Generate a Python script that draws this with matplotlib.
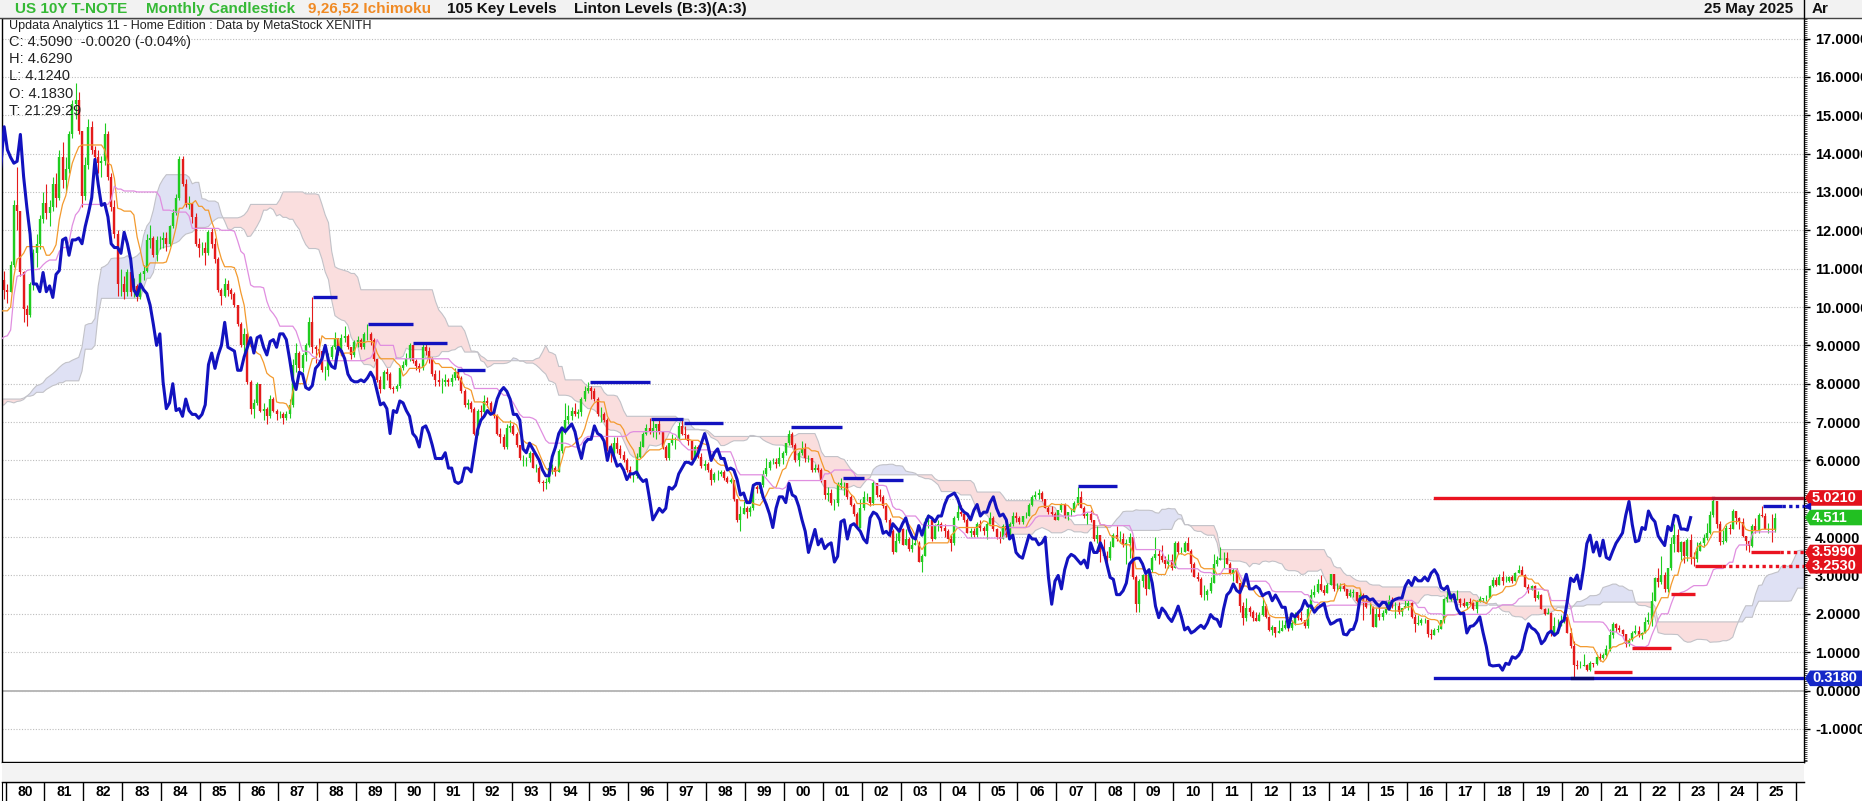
import numpy as np
import pandas as pd
import matplotlib
matplotlib.use("Agg")
import matplotlib.pyplot as plt
import matplotlib.transforms as mtransforms
from matplotlib.patches import Polygon, Rectangle
from matplotlib.ticker import MultipleLocator, FormatStrFormatter

plt.rcParams['font.family'] = ['Liberation Sans', 'DejaVu Sans']

# ---------------------------------------------------------------
# monthly bars, Jan 1973 .. May 2025 (1973-79 only feed the Ichimoku lines)
# ---------------------------------------------------------------
first_year = 1973

close = [
    6.55, 6.70, 6.75, 6.75, 6.90, 7.00, 7.35, 7.25, 6.90, 6.75, 6.75, 6.90,  # 1973
    6.95, 7.05, 7.45, 7.55, 7.55, 7.70, 7.95, 8.10, 7.90, 7.75, 7.50, 7.45,  # 1974
    7.45, 7.55, 8.00, 8.20, 7.95, 7.95, 8.25, 8.45, 8.35, 8.05, 8.05, 7.85,  # 1975
    7.75, 7.75, 7.65, 7.70, 7.95, 7.85, 7.80, 7.65, 7.50, 7.35, 7.05, 6.90,  # 1976
    7.35, 7.45, 7.40, 7.40, 7.35, 7.30, 7.40, 7.35, 7.45, 7.55, 7.65, 7.80,  # 1977
    8.00, 8.05, 8.10, 8.25, 8.40, 8.55, 8.50, 8.40, 8.55, 8.75, 8.90, 9.05,  # 1978
    9.10, 9.15, 9.15, 9.25, 9.05, 8.90, 9.00, 9.20, 9.80, 10.70, 10.45, 10.40,  # 1979
    11.10, 12.65, 12.50, 10.90, 9.95, 9.80, 10.60, 11.40, 11.65, 12.30, 12.70, 12.45,  # 1980
    12.60, 13.20, 12.85, 13.90, 13.30, 13.60, 14.50, 15.30, 15.40, 14.60, 12.90, 13.70,  # 1981
    14.70, 14.10, 13.90, 13.75, 13.80, 14.50, 13.40, 12.60, 11.90, 10.60, 10.60, 10.40,  # 1982
    10.90, 10.40, 10.55, 10.25, 10.85, 10.95, 11.75, 11.80, 11.35, 11.75, 11.75, 11.80,  # 1983
    11.65, 12.10, 12.45, 12.85, 13.85, 13.20, 12.65, 12.70, 12.35, 11.65, 11.55, 11.55,  # 1984
    11.40, 11.95, 11.65, 11.25, 10.45, 10.30, 10.60, 10.45, 10.35, 10.05, 9.55, 9.00,  # 1985
    9.30, 8.05, 7.35, 7.50, 8.00, 7.30, 7.35, 7.15, 7.60, 7.30, 7.20, 7.20,  # 1986
    7.10, 7.20, 7.45, 8.50, 8.80, 8.40, 8.75, 9.00, 9.60, 8.95, 8.90, 8.85,  # 1987
    8.35, 8.35, 8.70, 8.95, 9.20, 8.80, 9.20, 9.25, 8.95, 8.75, 9.10, 9.15,  # 1988
    8.95, 9.30, 9.30, 9.15, 8.65, 8.10, 7.85, 8.30, 8.25, 7.90, 7.85, 7.95,  # 1989
    8.40, 8.50, 8.65, 9.00, 8.60, 8.45, 8.40, 8.95, 8.85, 8.65, 8.25, 8.10,  # 1990
    8.05, 8.05, 8.10, 8.05, 8.15, 8.30, 8.15, 7.80, 7.45, 7.50, 7.35, 6.70,  # 1991
    7.30, 7.25, 7.55, 7.50, 7.30, 7.15, 6.70, 6.60, 6.35, 6.85, 6.90, 6.70,  # 1992
    6.40, 6.05, 6.05, 6.05, 6.20, 5.80, 5.80, 5.45, 5.40, 5.45, 5.80, 5.80,  # 1993
    5.70, 6.25, 6.80, 7.05, 7.15, 7.30, 7.20, 7.25, 7.60, 7.80, 7.90, 7.80,  # 1994
    7.60, 7.20, 7.20, 7.05, 6.30, 6.20, 6.45, 6.30, 6.15, 6.00, 5.75, 5.60,  # 1995
    5.60, 6.10, 6.35, 6.70, 6.85, 6.75, 6.85, 6.95, 6.75, 6.35, 6.05, 6.45,  # 1996
    6.55, 6.55, 6.90, 6.70, 6.65, 6.50, 6.00, 6.35, 6.10, 5.85, 5.90, 5.75,  # 1997
    5.50, 5.65, 5.65, 5.70, 5.55, 5.45, 5.50, 5.00, 4.45, 4.60, 4.75, 4.65,  # 1998
    4.75, 5.30, 5.25, 5.35, 5.65, 5.80, 5.95, 5.95, 5.90, 6.05, 6.20, 6.45,  # 1999
    6.70, 6.40, 6.00, 6.20, 6.30, 6.05, 6.05, 5.75, 5.80, 5.75, 5.50, 5.10,  # 2000
    5.15, 4.90, 4.90, 5.35, 5.40, 5.40, 5.05, 4.85, 4.60, 4.25, 4.75, 5.05,  # 2001
    5.05, 4.90, 5.40, 5.10, 5.05, 4.80, 4.45, 4.15, 3.60, 3.90, 4.20, 3.80,  # 2002
    3.95, 3.70, 3.80, 3.85, 3.35, 3.50, 4.40, 4.45, 3.95, 4.30, 4.35, 4.25,  # 2003
    4.15, 3.95, 3.85, 4.50, 4.65, 4.60, 4.45, 4.10, 4.15, 4.05, 4.35, 4.25,  # 2004
    4.15, 4.35, 4.50, 4.20, 4.00, 3.95, 4.30, 4.05, 4.35, 4.55, 4.50, 4.40,  # 2005
    4.55, 4.55, 4.85, 5.05, 5.10, 5.15, 5.00, 4.75, 4.65, 4.60, 4.45, 4.70,  # 2006
    4.85, 4.55, 4.65, 4.65, 4.90, 5.05, 4.75, 4.55, 4.60, 4.45, 3.95, 4.05,  # 2007
    3.60, 3.50, 3.45, 3.75, 4.05, 3.95, 3.95, 3.80, 3.85, 4.00, 2.95, 2.25,  # 2008
    2.85, 3.00, 2.65, 3.15, 3.45, 3.55, 3.50, 3.40, 3.30, 3.40, 3.20, 3.85,  # 2009
    3.60, 3.60, 3.85, 3.65, 3.30, 2.95, 2.90, 2.50, 2.50, 2.60, 2.80, 3.30,  # 2010
    3.40, 3.45, 3.45, 3.30, 3.05, 3.15, 2.80, 2.20, 1.90, 2.15, 2.05, 1.90,  # 2011
    1.80, 1.98, 2.20, 1.92, 1.58, 1.65, 1.50, 1.55, 1.63, 1.70, 1.62, 1.76,  # 2012
    1.98, 1.88, 1.85, 1.67, 2.13, 2.49, 2.58, 2.78, 2.61, 2.55, 2.75, 3.03,  # 2013
    2.65, 2.65, 2.72, 2.65, 2.47, 2.53, 2.56, 2.34, 2.49, 2.34, 2.17, 2.17,  # 2014
    1.65, 2.00, 1.92, 2.03, 2.12, 2.35, 2.20, 2.21, 2.04, 2.15, 2.21, 2.27,  # 2015
    1.92, 1.73, 1.77, 1.83, 1.85, 1.47, 1.45, 1.58, 1.60, 1.83, 2.38, 2.44,  # 2016
    2.45, 2.36, 2.39, 2.28, 2.20, 2.30, 2.29, 2.12, 2.33, 2.38, 2.41, 2.41,  # 2017
    2.72, 2.87, 2.74, 2.95, 2.86, 2.86, 2.96, 2.86, 3.06, 3.15, 3.01, 2.69,  # 2018
    2.63, 2.72, 2.41, 2.50, 2.13, 2.00, 2.02, 1.50, 1.67, 1.69, 1.78, 1.92,  # 2019
    1.51, 1.15, 0.67, 0.64, 0.65, 0.66, 0.53, 0.71, 0.68, 0.88, 0.84, 0.92,  # 2020
    1.07, 1.46, 1.74, 1.63, 1.58, 1.47, 1.22, 1.31, 1.49, 1.55, 1.44, 1.51,  # 2021
    1.78, 1.83, 2.34, 2.93, 2.84, 3.01, 2.65, 3.19, 3.83, 4.05, 3.61, 3.87,  # 2022
    3.51, 3.92, 3.47, 3.42, 3.64, 3.84, 3.97, 4.11, 4.57, 4.93, 4.33, 3.88,  # 2023
    3.91, 4.25, 4.20, 4.68, 4.50, 4.40, 4.03, 3.90, 3.78, 4.28, 4.17, 4.57,  # 2024
    4.54, 4.21, 4.21, 4.183, 4.509,                                          # 2025
]

high = [
    6.60, 6.75, 6.80, 6.80, 6.95, 7.05, 7.50, 7.50, 7.30, 6.95, 6.85, 6.95,  # 1973
    7.05, 7.10, 7.50, 7.65, 7.70, 7.75, 8.00, 8.15, 8.15, 7.95, 7.80, 7.55,  # 1974
    7.60, 7.60, 8.05, 8.40, 8.25, 8.05, 8.30, 8.50, 8.55, 8.40, 8.15, 8.10,  # 1975
    7.90, 7.85, 7.80, 7.75, 8.05, 8.00, 7.90, 7.85, 7.70, 7.55, 7.40, 7.10,  # 1976
    7.40, 7.50, 7.55, 7.45, 7.55, 7.40, 7.45, 7.50, 7.50, 7.60, 7.70, 7.85,  # 1977
    8.05, 8.10, 8.15, 8.30, 8.45, 8.60, 8.75, 8.55, 8.60, 8.90, 9.00, 9.10,  # 1978
    9.15, 9.25, 9.25, 9.35, 9.35, 9.10, 9.10, 9.25, 9.85, 11.00, 10.95, 10.60,  # 1979
    11.20, 12.80, 13.65, 12.50, 10.95, 10.05, 10.65, 11.50, 11.90, 12.40, 13.00, 13.20,  # 1980
    12.80, 13.40, 13.50, 14.10, 14.30, 13.90, 14.60, 15.40, 15.85, 15.60, 14.60, 13.90,  # 1981
    14.90, 14.85, 14.20, 14.10, 13.95, 14.80, 14.60, 13.50, 12.80, 12.00, 11.00, 10.80,  # 1982
    11.00, 10.95, 10.75, 10.60, 10.90, 11.10, 11.90, 12.15, 11.85, 11.85, 11.85, 11.95,  # 1983
    11.95, 12.15, 12.55, 12.95, 13.95, 13.95, 13.35, 12.90, 12.70, 12.45, 11.80, 11.70,  # 1984
    11.70, 12.00, 12.05, 11.80, 11.30, 10.50, 10.75, 10.70, 10.50, 10.40, 10.05, 9.60,  # 1985
    9.45, 9.35, 8.10, 7.60, 8.05, 8.00, 7.50, 7.40, 7.70, 7.65, 7.35, 7.30,  # 1986
    7.25, 7.30, 7.60, 8.65, 9.05, 8.85, 8.80, 9.05, 9.75, 10.25, 9.00, 9.20,  # 1987
    8.85, 8.45, 8.80, 9.00, 9.35, 9.20, 9.30, 9.50, 9.30, 8.95, 9.15, 9.25,  # 1988
    9.20, 9.35, 9.55, 9.35, 9.20, 8.65, 8.20, 8.35, 8.40, 8.30, 7.95, 8.00,  # 1989
    8.45, 8.60, 8.80, 9.05, 9.00, 8.65, 8.55, 9.05, 9.10, 8.95, 8.70, 8.35,  # 1990
    8.35, 8.15, 8.25, 8.15, 8.25, 8.40, 8.35, 8.20, 7.85, 7.60, 7.55, 7.40,  # 1991
    7.35, 7.45, 7.70, 7.65, 7.55, 7.40, 7.20, 6.85, 6.70, 6.95, 7.05, 6.95,  # 1992
    6.75, 6.40, 6.15, 6.10, 6.25, 6.20, 5.90, 5.85, 5.50, 5.55, 5.95, 5.90,  # 1993
    5.85, 6.30, 6.85, 7.50, 7.45, 7.40, 7.50, 7.35, 7.65, 7.95, 8.05, 7.95,  # 1994
    7.90, 7.65, 7.40, 7.25, 7.10, 6.45, 6.60, 6.60, 6.40, 6.25, 6.05, 5.85,  # 1995
    5.70, 6.20, 6.50, 6.75, 6.95, 7.10, 7.05, 6.95, 7.05, 6.75, 6.40, 6.45,  # 1996
    6.70, 6.60, 7.00, 7.10, 6.90, 6.70, 6.50, 6.40, 6.40, 6.20, 6.00, 5.95,  # 1997
    5.80, 5.70, 5.75, 5.75, 5.75, 5.60, 5.55, 5.50, 5.00, 4.80, 4.95, 4.80,  # 1998
    4.80, 5.30, 5.35, 5.40, 5.75, 6.05, 6.00, 6.05, 6.05, 6.35, 6.25, 6.45,  # 1999
    6.80, 6.75, 6.45, 6.25, 6.50, 6.45, 6.15, 6.05, 5.90, 5.90, 5.80, 5.50,  # 2000
    5.30, 5.25, 5.00, 5.45, 5.55, 5.45, 5.40, 5.10, 4.90, 4.65, 5.00, 5.20,  # 2001
    5.15, 5.05, 5.50, 5.40, 5.25, 5.10, 4.85, 4.50, 4.20, 4.10, 4.25, 4.25,  # 2002
    4.20, 4.00, 4.00, 4.05, 3.90, 3.55, 4.50, 4.60, 4.50, 4.35, 4.45, 4.40,  # 2003
    4.35, 4.20, 4.05, 4.55, 4.85, 4.85, 4.60, 4.50, 4.25, 4.25, 4.40, 4.45,  # 2004
    4.30, 4.40, 4.65, 4.55, 4.25, 4.15, 4.35, 4.40, 4.40, 4.65, 4.65, 4.55,  # 2005
    4.55, 4.65, 4.90, 5.10, 5.20, 5.25, 5.20, 5.00, 4.80, 4.80, 4.65, 4.70,  # 2006
    4.90, 4.90, 4.65, 4.75, 4.95, 5.30, 5.20, 4.80, 4.65, 4.70, 4.45, 4.30,  # 2007
    4.05, 3.95, 3.65, 3.90, 4.10, 4.30, 4.15, 4.10, 3.95, 4.10, 4.00, 3.00,  # 2008
    2.90, 3.05, 3.05, 3.20, 3.50, 4.00, 3.70, 3.80, 3.50, 3.55, 3.55, 3.90,  # 2009
    3.90, 3.75, 3.90, 4.00, 3.70, 3.35, 3.10, 2.95, 2.75, 2.65, 2.95, 3.55,  # 2010
    3.50, 3.75, 3.60, 3.60, 3.35, 3.20, 3.20, 2.80, 2.30, 2.40, 2.20, 2.10,  # 2011
    2.05, 2.05, 2.40, 2.25, 1.95, 1.70, 1.65, 1.85, 1.85, 1.85, 1.75, 1.85,  # 2012
    2.05, 2.05, 2.08, 1.85, 2.20, 2.65, 2.75, 2.90, 3.00, 2.75, 2.80, 3.05,  # 2013
    3.05, 2.80, 2.80, 2.80, 2.65, 2.65, 2.65, 2.55, 2.65, 2.55, 2.40, 2.35,  # 2014
    2.20, 2.15, 2.25, 2.10, 2.35, 2.50, 2.45, 2.30, 2.30, 2.15, 2.35, 2.35,  # 2015
    2.30, 2.00, 1.98, 1.90, 1.90, 1.85, 1.60, 1.62, 1.70, 1.85, 2.40, 2.60,  # 2016
    2.55, 2.50, 2.62, 2.40, 2.40, 2.30, 2.40, 2.30, 2.35, 2.47, 2.42, 2.50,  # 2017
    2.75, 2.95, 2.95, 3.03, 3.12, 2.99, 2.99, 3.00, 3.09, 3.26, 3.24, 3.05,  # 2018
    2.78, 2.74, 2.74, 2.60, 2.52, 2.16, 2.14, 2.06, 1.91, 1.86, 1.97, 1.95,  # 2019
    1.94, 1.62, 1.28, 0.79, 0.77, 0.96, 0.70, 0.76, 0.73, 0.89, 0.98, 0.98,  # 2020
    1.19, 1.61, 1.78, 1.77, 1.70, 1.60, 1.48, 1.38, 1.56, 1.70, 1.69, 1.52,  # 2021
    1.91, 2.06, 2.56, 2.96, 3.20, 3.50, 3.09, 3.20, 4.01, 4.34, 4.22, 3.91,  # 2022
    3.90, 3.98, 4.09, 3.62, 3.86, 3.89, 4.09, 4.36, 4.69, 5.021, 4.92, 4.41,  # 2023
    4.19, 4.32, 4.35, 4.74, 4.63, 4.52, 4.49, 4.01, 3.91, 4.34, 4.50, 4.63,  # 2024
    4.81, 4.62, 4.36, 4.59, 4.629,                                           # 2025
]

low = [
    6.40, 6.50, 6.65, 6.65, 6.70, 6.85, 6.95, 7.15, 6.85, 6.65, 6.65, 6.70,  # 1973
    6.85, 6.90, 7.00, 7.40, 7.45, 7.45, 7.65, 7.90, 7.85, 7.70, 7.45, 7.30,  # 1974
    7.35, 7.30, 7.50, 7.95, 7.90, 7.70, 7.90, 8.20, 8.25, 8.00, 7.95, 7.80,  # 1975
    7.65, 7.65, 7.60, 7.45, 7.65, 7.80, 7.75, 7.60, 7.45, 7.30, 7.00, 6.80,  # 1976
    6.90, 7.30, 7.35, 7.30, 7.30, 7.20, 7.25, 7.30, 7.30, 7.45, 7.50, 7.60,  # 1977
    7.80, 7.95, 8.00, 8.05, 8.25, 8.40, 8.45, 8.30, 8.35, 8.55, 8.70, 8.85,  # 1978
    8.95, 9.05, 9.05, 9.10, 9.00, 8.80, 8.85, 8.95, 9.15, 9.75, 10.20, 10.10,  # 1979
    10.40, 11.05, 12.00, 10.80, 9.60, 9.50, 9.75, 10.45, 11.05, 11.50, 12.20, 12.30,  # 1980
    12.10, 12.50, 12.60, 12.80, 13.10, 13.00, 13.50, 14.40, 14.90, 14.50, 12.60, 12.80,  # 1981
    13.60, 14.00, 13.50, 13.50, 13.40, 13.70, 13.30, 12.50, 11.80, 10.30, 10.30, 10.20,  # 1982
    10.30, 10.30, 10.25, 10.15, 10.20, 10.70, 10.90, 11.55, 11.30, 11.20, 11.50, 11.55,  # 1983
    11.45, 11.60, 12.05, 12.40, 12.80, 13.15, 12.60, 12.55, 12.20, 11.60, 11.30, 11.35,  # 1984
    11.10, 11.35, 11.55, 11.15, 10.40, 10.05, 10.25, 10.30, 10.20, 10.00, 9.50, 8.95,  # 1985
    8.80, 8.00, 7.20, 7.10, 7.45, 7.25, 7.05, 6.95, 7.10, 7.25, 7.05, 7.10,  # 1986
    6.95, 7.05, 7.10, 7.40, 8.30, 8.25, 8.30, 8.60, 8.95, 8.80, 8.55, 8.70,  # 1987
    8.30, 8.10, 8.20, 8.65, 8.90, 8.75, 8.80, 9.10, 8.90, 8.65, 8.70, 8.95,  # 1988
    8.90, 8.90, 9.15, 9.00, 8.60, 8.05, 7.75, 7.85, 8.10, 7.85, 7.75, 7.80,  # 1989
    7.90, 8.35, 8.45, 8.60, 8.55, 8.35, 8.30, 8.35, 8.75, 8.55, 8.20, 7.95,  # 1990
    7.95, 7.75, 7.95, 7.95, 7.95, 8.10, 8.10, 7.75, 7.40, 7.35, 7.25, 6.65,  # 1991
    6.65, 7.10, 7.20, 7.40, 7.25, 7.10, 6.65, 6.45, 6.30, 6.30, 6.75, 6.65,  # 1992
    6.35, 6.00, 5.85, 5.85, 5.95, 5.80, 5.70, 5.40, 5.20, 5.25, 5.40, 5.65,  # 1993
    5.60, 5.70, 6.20, 6.70, 6.95, 7.05, 7.15, 7.10, 7.15, 7.55, 7.75, 7.60,  # 1994
    7.55, 7.15, 7.00, 7.00, 6.25, 5.95, 6.15, 6.20, 6.05, 5.95, 5.70, 5.55,  # 1995
    5.45, 5.55, 6.05, 6.35, 6.65, 6.70, 6.60, 6.55, 6.70, 6.30, 6.00, 6.00,  # 1996
    6.40, 6.30, 6.50, 6.65, 6.55, 6.40, 5.95, 6.00, 6.05, 5.80, 5.75, 5.70,  # 1997
    5.35, 5.45, 5.50, 5.60, 5.50, 5.40, 5.40, 4.95, 4.40, 4.15, 4.60, 4.50,  # 1998
    4.55, 4.70, 5.15, 5.15, 5.30, 5.60, 5.75, 5.90, 5.80, 5.85, 5.90, 6.15,  # 1999
    6.40, 6.35, 5.95, 5.85, 6.15, 5.95, 5.95, 5.70, 5.70, 5.70, 5.45, 5.00,  # 2000
    4.95, 4.85, 4.70, 4.80, 5.25, 5.10, 5.00, 4.80, 4.55, 4.20, 4.25, 4.70,  # 2001
    4.95, 4.80, 4.85, 5.05, 4.95, 4.75, 4.40, 4.00, 3.55, 3.60, 3.85, 3.80,  # 2002
    3.80, 3.65, 3.60, 3.80, 3.35, 3.10, 3.50, 4.25, 3.90, 3.95, 4.15, 4.15,  # 2003
    4.00, 3.95, 3.65, 3.80, 4.45, 4.55, 4.40, 4.10, 4.00, 4.00, 4.00, 4.15,  # 2004
    4.05, 3.95, 4.35, 4.15, 3.95, 3.85, 3.95, 4.00, 4.00, 4.30, 4.40, 4.35,  # 2005
    4.35, 4.50, 4.55, 4.80, 5.00, 5.00, 4.95, 4.75, 4.60, 4.55, 4.45, 4.45,  # 2006
    4.65, 4.50, 4.45, 4.55, 4.65, 4.85, 4.75, 4.50, 4.35, 4.40, 3.90, 3.85,  # 2007
    3.35, 3.45, 3.30, 3.40, 3.75, 3.90, 3.85, 3.75, 3.30, 3.45, 2.90, 2.05,  # 2008
    2.05, 2.70, 2.50, 2.65, 3.10, 3.40, 3.30, 3.35, 3.20, 3.20, 3.15, 3.20,  # 2009
    3.55, 3.55, 3.60, 3.65, 3.10, 2.95, 2.85, 2.45, 2.35, 2.35, 2.55, 2.80,  # 2010
    3.25, 3.40, 3.20, 3.30, 3.05, 2.85, 2.80, 2.05, 1.70, 1.80, 1.95, 1.80,  # 2011
    1.80, 1.80, 1.95, 1.90, 1.55, 1.45, 1.40, 1.50, 1.55, 1.60, 1.55, 1.58,  # 2012
    1.70, 1.85, 1.80, 1.63, 1.62, 2.10, 2.45, 2.55, 2.60, 2.50, 2.55, 2.75,  # 2013
    2.60, 2.60, 2.60, 2.60, 2.40, 2.45, 2.45, 2.30, 2.35, 1.85, 2.15, 2.00,  # 2014
    1.65, 1.65, 1.85, 1.85, 2.00, 2.10, 2.15, 1.90, 2.00, 1.95, 2.15, 2.10,  # 2015
    1.90, 1.53, 1.72, 1.70, 1.75, 1.40, 1.35, 1.50, 1.52, 1.60, 1.75, 2.30,  # 2016
    2.33, 2.30, 2.35, 2.17, 2.17, 2.12, 2.25, 2.10, 2.03, 2.30, 2.30, 2.33,  # 2017
    2.40, 2.70, 2.73, 2.74, 2.76, 2.82, 2.82, 2.81, 2.85, 3.06, 3.00, 2.69,  # 2018
    2.55, 2.61, 2.34, 2.39, 2.12, 1.97, 1.99, 1.43, 1.46, 1.51, 1.71, 1.75,  # 2019
    1.51, 1.11, 0.318, 0.55, 0.60, 0.63, 0.51, 0.50, 0.61, 0.66, 0.77, 0.82,  # 2020
    0.91, 1.03, 1.37, 1.53, 1.53, 1.43, 1.13, 1.17, 1.28, 1.47, 1.40, 1.34,  # 2021
    1.63, 1.73, 1.67, 2.34, 2.70, 2.79, 2.57, 2.57, 3.13, 3.60, 3.61, 3.40,  # 2022
    3.32, 3.37, 3.29, 3.253, 3.35, 3.64, 3.74, 3.93, 4.08, 4.53, 4.25, 3.79,  # 2023
    3.82, 3.86, 4.08, 4.20, 4.35, 4.22, 4.01, 3.67, 3.599, 3.74, 4.12, 4.12,  # 2024
    4.52, 4.20, 4.10, 3.87, 4.124,                                           # 2025
]

# Linton levels: short segments
lvl_start = [1987.90, 1989.31, 1990.47, 1991.60, 1995.02, 1996.58, 1997.43, 2000.18,
             2001.52, 2002.42, 2007.56, 2020.81, 2021.79, 2022.79, 2023.42, 2024.84, 2025.15]
lvl_end = [1988.51, 1990.47, 1991.34, 1992.32, 1996.56, 1997.40, 1998.43, 2001.49,
           2002.05, 2003.06, 2008.56, 2021.79, 2022.79, 2023.42, 2024.10, 2025.59, 2025.64]
lvl_value = [10.25, 9.55, 9.07, 8.37, 8.04, 7.08, 6.98, 6.87,
             5.54, 5.49, 5.33, 0.48, 1.11, 2.52, 3.253, 3.599, 4.81]
lvl_side = ['B'] * 11 + ['A'] * 5 + ['B']
open_levels = [3.253, 3.599, 4.81]          # levels still running -> dotted to the axis

# key levels (long lines)
key_high, key_low = 5.021, 0.318
key_start = 2016.72
key_high_dark = 2023.87
key_low_dark = (2020.25, 2020.75)

# price tags on the right axis
tag_values = [5.021, 4.511, 3.599, 3.253, 0.318]
tag_text = ['5.0210', '4.511', '3.5990', '3.2530', '0.3180']
tag_kind = ['red', 'green', 'red', 'red', 'blue']
hidden_ticks = [5.0]                        # tick label fully covered by a tag

label_years = list(range(1980, 2026))

# colours
UP = '#1fcc1f'
DOWN = '#e41b1b'
BLUE = '#1212bf'
RED = '#ea1320'
DARK_RED = '#b81a34'
NAVY = '#0a0a70'
tag_colors = {'red': '#e3121c', 'green': '#22c022', 'blue': '#1528c8'}

# ---------------------------------------------------------------
close = np.array(close, dtype=float)
high = np.array(high, dtype=float)
low = np.array(low, dtype=float)
n = len(close)
openp = np.r_[close[0], close[:-1]]
high = np.maximum(high, np.maximum(openp, close))
low = np.minimum(low, np.minimum(openp, close))
t = first_year + np.arange(n) / 12 + 0.13

# Ichimoku 9,26,52
hs, ls = pd.Series(high), pd.Series(low)
def midline(p):
    return ((hs.rolling(p).max() + ls.rolling(p).min()) / 2).values
tenkan = midline(9)
kijun = midline(26)
span_a = (tenkan + kijun) / 2
span_b = midline(52)
shift = 26
t_fwd = first_year + (np.arange(n) + shift) / 12 + 0.13

# ---------------------------------------------------------------
W, H = 1862, 801
fig = plt.figure(figsize=(W / 100, H / 100), dpi=100)
fig.patch.set_facecolor('white')

def fx(px):
    return px / W

def fy(py):
    return 1 - py / H

ax = fig.add_axes([fx(2), fy(762), fx(1804) - fx(2), fy(18) - fy(762)])
x_left, x_right = 1979.908, 2026.21
ax.set_xlim(x_left, x_right)
ax.set_ylim(-1.864, 17.536)

# cloud
with np.errstate(invalid='ignore'):
    bull = span_a >= span_b
    bear = span_a < span_b
ax.fill_between(t_fwd, span_a, span_b, where=bull, interpolate=True,
                color='#dfe1f4', lw=0, zorder=1)
ax.fill_between(t_fwd, span_a, span_b, where=bear, interpolate=True,
                color='#fadede', lw=0, zorder=1)
ax.plot(t_fwd, span_a, color='#c2c2c8', lw=0.8, zorder=1.2)
ax.plot(t_fwd, span_b, color='#c2c2c8', lw=0.8, zorder=1.2)

ax.axhline(0, color='#b8b8b8', lw=1.4, zorder=0.8)

# candles
cols = np.where(close >= openp, UP, DOWN)
ax.vlines(t, low, high, colors=cols, lw=0.8, zorder=2)
ax.vlines(t, np.minimum(openp, close), np.maximum(openp, close), colors=cols, lw=1.7, zorder=2)

# tenkan / kijun
ax.plot(t, tenkan, color='#f39a2e', lw=0.9, zorder=3)
ax.plot(t, kijun, color='#e08ee0', lw=0.9, zorder=3)

# chikou
ax.plot(t[:-shift], close[shift:], color=BLUE, lw=2.2, zorder=4)

# Linton levels
for s, e, v, side in zip(lvl_start, lvl_end, lvl_value, lvl_side):
    c = BLUE if side == 'B' else RED
    ax.plot([s, e], [v, v], color=c, lw=2.4, solid_capstyle='butt', zorder=5)
    if v in open_levels:
        ax.plot([e, x_right], [v, v], color=c, lw=2.4, linestyle=(0, (1, 1)), zorder=5)

# key levels
ax.plot([key_start, key_high_dark], [key_high, key_high], color=RED, lw=2.4, zorder=5)
ax.plot([key_high_dark, x_right], [key_high, key_high], color=DARK_RED, lw=2.4, zorder=5)
ax.plot([key_start, x_right], [key_low, key_low], color=BLUE, lw=2.4, zorder=5)
ax.plot(list(key_low_dark), [key_low, key_low], color=NAVY, lw=2.4, zorder=5.1)

# axes styling
ax.yaxis.tick_right()
ax.yaxis.set_major_locator(MultipleLocator(1))
ax.yaxis.set_minor_locator(MultipleLocator(0.05))
ax.yaxis.set_major_formatter(FormatStrFormatter('%.4f'))
ax.tick_params(axis='y', which='major', length=4, width=1, pad=4, labelsize=10.5)
ax.tick_params(axis='y', which='minor', length=2, width=0.5)
fig.canvas.draw()
for tk in ax.yaxis.get_major_ticks():
    tk.label2.set_fontweight('bold')
    if any(abs(tk.get_loc() - h) < 1e-9 for h in hidden_ticks):
        tk.label2.set_visible(False)
ax.set_xticks([])
ax.grid(axis='y', which='major', color='#bdbdbd', linestyle=(0, (1, 1.5)), lw=0.8)
ax.set_axisbelow(True)
for sp in ax.spines.values():
    sp.set_color('black')
    sp.set_linewidth(1)

# price tags on the right
blend = mtransforms.blended_transform_factory(ax.transAxes, ax.transData)
def afx(px):
    return (px - 2) / 1802
half = 7.8 / 38.35
for v, txt, kind in zip(tag_values, tag_text, tag_kind):
    poly = Polygon([(afx(1805), v), (afx(1810), v + half), (afx(1870), v + half),
                    (afx(1870), v - half), (afx(1810), v - half)], closed=True,
                   transform=blend, clip_on=False, facecolor=tag_colors[kind],
                   edgecolor='none', zorder=10)
    ax.add_patch(poly)
    ax.text(afx(1812), v, txt, transform=blend, color='white', fontsize=10.5,
            fontweight='bold', va='center', ha='left', clip_on=False, zorder=11)
ax.plot([afx(1807)], [lvl_value[-1]], marker='<', color=BLUE, ms=5,
        transform=blend, clip_on=False, zorder=11)

# year strip
yr = fig.add_axes([fx(2), 0, fx(1804) - fx(2), 19 / H])
yr.set_xlim(x_left, x_right)
yr.set_ylim(0, 1)
yr.set_xticks([])
yr.set_yticks([])
for sp in ['right', 'bottom']:
    yr.spines[sp].set_visible(False)
yr.vlines(label_years + [label_years[-1] + 1], 0, 1, color='black', lw=1)
for y in label_years:
    yr.text(y + 0.5, 0.45, f"{y % 100:02d}", ha='center', va='center',
            fontsize=10, fontweight='bold')

# overlay in pixel coordinates for header, info block and bands
ov = fig.add_axes([0, 0, 1, 1], zorder=6)
ov.set_xlim(0, W)
ov.set_ylim(H, 0)
ov.axis('off')
ov.add_patch(Rectangle((0, 0), W, 18, facecolor='#f2f2f2', edgecolor='none'))
ov.plot([0, W], [18, 18], color='#444444', lw=1)
ov.plot([1804, 1804], [0, 18], color='black', lw=1)
ov.add_patch(Rectangle((2, 762.5), 1802, 19, facecolor='#f3f3f3', edgecolor='none'))
ov.plot([2, 1804], [782, 782], color='black', lw=1)

hy = 8.8
ov.text(15, hy, 'US 10Y T-NOTE', color='#36b936', fontsize=11, fontweight='bold', va='center')
ov.text(146, hy, 'Monthly Candlestick', color='#36b936', fontsize=11, fontweight='bold', va='center')
ov.text(308, hy, '9,26,52 Ichimoku', color='#f08a24', fontsize=11, fontweight='bold', va='center')
ov.text(447, hy, '105 Key Levels', color='#111111', fontsize=11, fontweight='bold', va='center')
ov.text(574, hy, 'Linton Levels (B:3)(A:3)', color='#111111', fontsize=11, fontweight='bold', va='center')
ov.text(1793, hy, '25 May 2025', color='#111111', fontsize=11, fontweight='bold', va='center', ha='right')
ov.text(1812, hy, 'Ar', color='#111111', fontsize=11, fontweight='bold', va='center')

ov.text(9, 25.5, 'Updata Analytics 11 - Home Edition : Data by MetaStock XENITH',
        fontsize=9, color='#222222', va='center')
info = [f"C: {close[-1]:.4f}  -0.0020 (-0.04%)",
        f"H: {high[-1]:.4f}",
        f"L: {low[-1]:.4f}",
        f"O: {openp[-1]:.4f}",
        "T: 21:29:29"]
for i, s in enumerate(info):
    ov.text(9, 42 + i * 17.2, s, fontsize=10.5, color='#222222', va='center')

fig.savefig('out.png', dpi=100)
